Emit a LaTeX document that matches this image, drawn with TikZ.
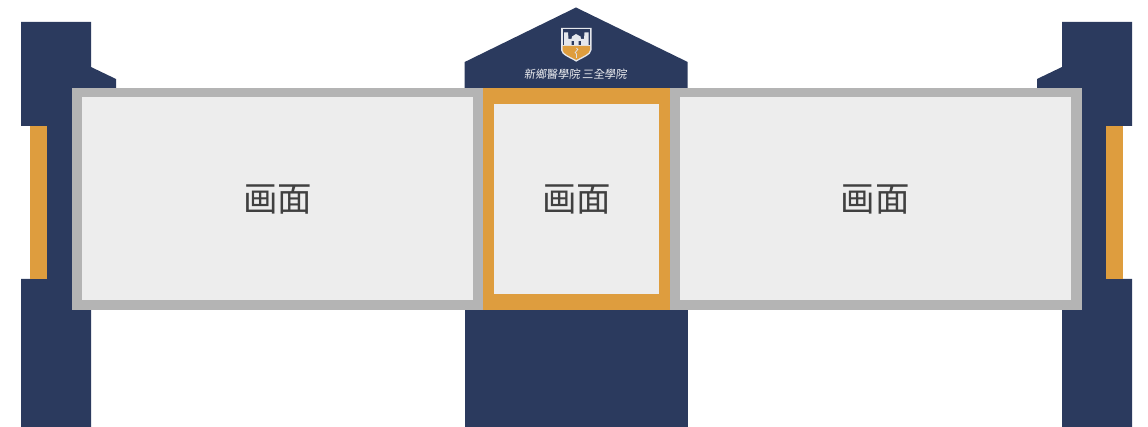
\documentclass[tikz,border=0pt]{standalone}
\usepackage{fontspec}
\newfontfamily\cjk{Noto Sans CJK SC}
\newfontfamily\cjktc{Noto Sans CJK TC}
\definecolor{navy}{HTML}{2B3A5E}
\definecolor{gold}{HTML}{DE9D3E}
\definecolor{frameg}{HTML}{B4B4B4}
\definecolor{screeng}{HTML}{EDEDED}
\definecolor{inkg}{HTML}{404040}
\tikzset{
  navyfill/.style={fill=navy,draw=none},
  goldfill/.style={fill=gold,draw=none},
  framefill/.style={fill=frameg,draw=none},
  screenfill/.style={fill=screeng,draw=none},
  screenlabel/.style={font=\cjk\fontsize{34.5}{35}\selectfont,text=inkg,inner sep=0pt},
  collegelabel/.style={font=\cjktc\fontsize{11.2}{12}\selectfont,text=white!92!navy,inner sep=0pt,xslant=0.12}
}
\begin{document}
\begin{tikzpicture}[x=1pt,y=-1pt]
\useasboundingbox (0,0) rectangle (1148,427);
% left post
\fill[navyfill] (21,22) -- (91,22) -- (91,67) -- (116,79) -- (116,90) -- (74,90) -- (74,308) -- (91,308) -- (91,427) -- (21,427) -- (21,279) -- (47,279) -- (47,126) -- (21,126) -- cycle;
\fill[goldfill] (30.3,126) rectangle (47,279);
% right post
\fill[navyfill] (1132,22) -- (1062,22) -- (1062,67) -- (1037,79) -- (1037,90) -- (1079,90) -- (1079,308) -- (1062,308) -- (1062,427) -- (1132,427) -- (1132,279) -- (1106,279) -- (1106,126) -- (1132,126) -- cycle;
\fill[goldfill] (1106,126) rectangle (1122.7,279);
% centre gable and base
\fill[navyfill] (576,7.5) -- (687.7,62) -- (687.7,90) -- (464.7,90) -- (464.7,62) -- cycle;
\fill[navyfill] (464.7,308) rectangle (687.7,427);
% frames
\fill[framefill] (72,88.3) rectangle (483.3,310);
\fill[screenfill] (82.3,97.3) rectangle (473,300.5);
\fill[framefill] (670,88.3) rectangle (1081.5,310);
\fill[screenfill] (680,97.3) rectangle (1070.7,300.5);
\fill[goldfill] (483.3,88.3) rectangle (670,310);
\fill[screenfill] (494.3,104) rectangle (658.7,294);
% emblem
\fill[white!88!navy] (561,28) -- (591.5,28) -- (591.5,50) .. controls (591.5,55) and (582,58) .. (576.2,61.7) .. controls (570.5,58) and (561,55) .. (561,50) -- cycle;
\fill[navy] (562.5,29.5) rectangle (590,45.5);
\fill[gold] (562.5,46) -- (590,46) -- (590,50) .. controls (590,54) and (581,57) .. (576.2,60) .. controls (571.5,57) and (562.5,54) .. (562.5,50) -- cycle;
\fill[white!88!navy] (564,45) -- (564,32.5) -- (568,32.5) -- (568.5,39) -- (571.5,39) -- (572,36.5) -- (576,34) -- (580.5,36.5) -- (581,39) -- (584,39) -- (584.5,32.5) -- (588.5,32.5) -- (588.5,45) -- (581,45) -- (581,41) -- (578.5,41) -- (578.5,45) -- (574,45) -- (574,41) -- (571.5,41) -- (571.5,45) -- cycle;
\draw[white!85!navy,line width=0.8pt] (576.5,48) .. controls (581,50) and (572,52) .. (576.5,54) .. controls (578,55) and (575,56) .. (576.5,58);
% labels
\node[collegelabel] (college) at (576,74.5) {新鄉醫學院\hspace{2pt}三全學院};
\node[screenlabel] (screenA) at (277.5,199.5) {画面};
\node[screenlabel] (screenB) at (576.5,199.5) {画面};
\node[screenlabel] (screenC) at (875,199.5) {画面};
\end{tikzpicture}
\end{document}
